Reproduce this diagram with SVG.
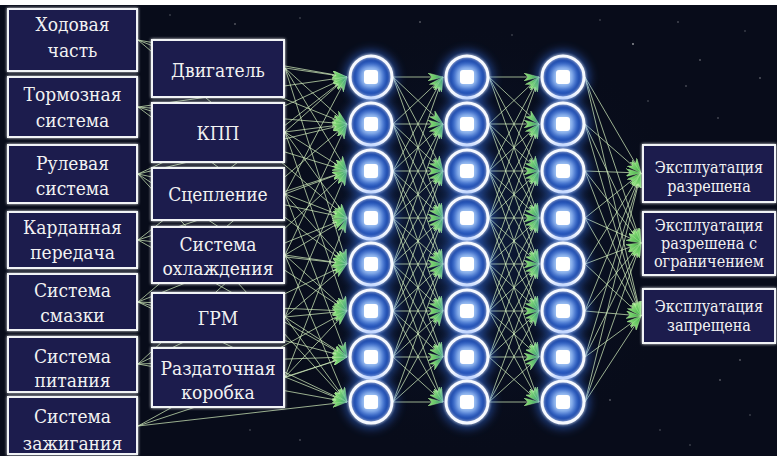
<svg xmlns="http://www.w3.org/2000/svg" xmlns:xlink="http://www.w3.org/1999/xlink" width="777" height="458" viewBox="0 0 777 458">
  <style>
    .box { fill: #1c1f4e; stroke: #f1f3f6; stroke-width: 2; filter: url(#halo); }
    .lbl { font-family: "DejaVu Serif Condensed", "DejaVu Serif", serif; font-stretch: condensed; font-size: 19px; fill: #f2f2f2; text-anchor: middle; }
    .out { font-family: "DejaVu Serif Condensed", "DejaVu Serif", serif; font-stretch: condensed; font-size: 16px; fill: #f2f2f2; text-anchor: middle; }
    .edge line { stroke: #d2efbd; stroke-width: 1; stroke-opacity: 0.72; marker-end: url(#arrow); }
    .star { fill: #ffffff; }
  </style>
  <defs>
    <filter id="halo" x="-10%" y="-10%" width="120%" height="120%">
      <feGaussianBlur in="SourceGraphic" stdDeviation="1.6" result="b"/>
      <feMerge><feMergeNode in="b"/><feMergeNode in="SourceGraphic"/></feMerge>
    </filter>
    <filter id="blur6" x="-50%" y="-50%" width="200%" height="200%">
      <feGaussianBlur stdDeviation="5"/>
    </filter>
    <filter id="blur3" x="-50%" y="-50%" width="200%" height="200%">
      <feGaussianBlur stdDeviation="3"/>
    </filter>
    <filter id="blur1" x="-50%" y="-50%" width="200%" height="200%">
      <feGaussianBlur stdDeviation="1.2"/>
    </filter>
    <radialGradient id="nfill" cx="50%" cy="50%" r="50%">
      <stop offset="0" stop-color="#4f93f2"/>
      <stop offset="0.55" stop-color="#2258c4"/>
      <stop offset="1" stop-color="#163d9a"/>
    </radialGradient>
    <radialGradient id="haze" cx="50%" cy="50%" r="50%">
      <stop offset="0" stop-color="#10234a" stop-opacity="0.8"/>
      <stop offset="1" stop-color="#080c1a" stop-opacity="0"/>
    </radialGradient>
    <linearGradient id="agrad" x1="0" y1="0" x2="1" y2="0">
      <stop offset="0" stop-color="#8fe07c"/>
      <stop offset="1" stop-color="#3fae48"/>
    </linearGradient>
    <marker id="arrow" viewBox="0 0 15 8" refX="15" refY="4" markerWidth="15" markerHeight="8" markerUnits="userSpaceOnUse" orient="auto">
      <path d="M0,0 L15,4 L0,8 L4,4 Z" fill="url(#agrad)" stroke="#b6f0a0" stroke-width="0.4"/>
    </marker>
    <!-- one neuron: glow, ring, core -->
    <g id="neuron">
      <circle r="27" fill="#3a7dff" opacity="0.45" filter="url(#blur6)"/>
      <circle r="21" fill="url(#nfill)"/>
      <circle r="21" fill="none" stroke="#ffffff" stroke-width="5" opacity="0.45" filter="url(#blur1)"/>
      <circle r="21" fill="none" stroke="#f6f9ff" stroke-width="3"/>
      <rect x="-11" y="-11" width="22" height="22" rx="7" fill="#cfe6ff" opacity="0.75" filter="url(#blur3)"/>
      <rect x="-7" y="-7" width="14" height="14" rx="3" fill="#ffffff"/>
    </g>
    <!-- connections between two hidden layers (|i-j| <= 3), x from 0 to 50 -->
    <g id="mesh" class="edge">
      <line x1="0" y1="77" x2="50" y2="77"/><line x1="0" y1="77" x2="50" y2="124"/><line x1="0" y1="77" x2="50" y2="171"/><line x1="0" y1="77" x2="50" y2="218"/>
      <line x1="0" y1="124" x2="50" y2="77"/><line x1="0" y1="124" x2="50" y2="124"/><line x1="0" y1="124" x2="50" y2="171"/><line x1="0" y1="124" x2="50" y2="218"/><line x1="0" y1="124" x2="50" y2="264"/>
      <line x1="0" y1="171" x2="50" y2="77"/><line x1="0" y1="171" x2="50" y2="124"/><line x1="0" y1="171" x2="50" y2="171"/><line x1="0" y1="171" x2="50" y2="218"/><line x1="0" y1="171" x2="50" y2="264"/><line x1="0" y1="171" x2="50" y2="311"/>
      <line x1="0" y1="218" x2="50" y2="77"/><line x1="0" y1="218" x2="50" y2="124"/><line x1="0" y1="218" x2="50" y2="171"/><line x1="0" y1="218" x2="50" y2="218"/><line x1="0" y1="218" x2="50" y2="264"/><line x1="0" y1="218" x2="50" y2="311"/><line x1="0" y1="218" x2="50" y2="357"/>
      <line x1="0" y1="264" x2="50" y2="124"/><line x1="0" y1="264" x2="50" y2="171"/><line x1="0" y1="264" x2="50" y2="218"/><line x1="0" y1="264" x2="50" y2="264"/><line x1="0" y1="264" x2="50" y2="311"/><line x1="0" y1="264" x2="50" y2="357"/><line x1="0" y1="264" x2="50" y2="402"/>
      <line x1="0" y1="311" x2="50" y2="171"/><line x1="0" y1="311" x2="50" y2="218"/><line x1="0" y1="311" x2="50" y2="264"/><line x1="0" y1="311" x2="50" y2="311"/><line x1="0" y1="311" x2="50" y2="357"/><line x1="0" y1="311" x2="50" y2="402"/>
      <line x1="0" y1="357" x2="50" y2="218"/><line x1="0" y1="357" x2="50" y2="264"/><line x1="0" y1="357" x2="50" y2="311"/><line x1="0" y1="357" x2="50" y2="357"/><line x1="0" y1="357" x2="50" y2="402"/>
      <line x1="0" y1="402" x2="50" y2="264"/><line x1="0" y1="402" x2="50" y2="311"/><line x1="0" y1="402" x2="50" y2="357"/><line x1="0" y1="402" x2="50" y2="402"/>
    </g>
  </defs>

  <!-- backdrop -->
  <rect x="0" y="0" width="777" height="458" fill="#ffffff"/>
  <rect x="0" y="5" width="777" height="451" fill="#080c1a"/>
  <ellipse cx="466" cy="240" rx="230" ry="220" fill="url(#haze)"/>
  <g id="stars" class="star">
    <circle cx="420" cy="22" r="0.8" opacity="0.5"/><circle cx="512" cy="35" r="0.7" opacity="0.4"/>
    <circle cx="633" cy="44" r="0.9" opacity="0.6"/><circle cx="678" cy="22" r="0.7" opacity="0.5"/>
    <circle cx="700" cy="60" r="0.8" opacity="0.5"/><circle cx="745" cy="31" r="0.7" opacity="0.4"/>
    <circle cx="760" cy="78" r="0.8" opacity="0.5"/><circle cx="648" cy="101" r="0.7" opacity="0.4"/>
    <circle cx="718" cy="118" r="0.8" opacity="0.4"/><circle cx="686" cy="86" r="0.7" opacity="0.5"/>
    <circle cx="300" cy="18" r="0.7" opacity="0.4"/><circle cx="235" cy="24" r="0.8" opacity="0.5"/>
    <circle cx="170" cy="15" r="0.7" opacity="0.4"/><circle cx="610" cy="400" r="0.8" opacity="0.5"/>
    <circle cx="660" cy="430" r="0.7" opacity="0.4"/><circle cx="720" cy="380" r="0.8" opacity="0.5"/>
    <circle cx="750" cy="415" r="0.7" opacity="0.4"/><circle cx="300" cy="440" r="0.8" opacity="0.4"/>
    <circle cx="250" cy="430" r="0.7" opacity="0.4"/><circle cx="690" cy="445" r="0.7" opacity="0.4"/>
    <circle cx="600" cy="20" r="0.7" opacity="0.4"/><circle cx="740" cy="360" r="0.8" opacity="0.5"/>
  </g>

  <!-- connectors -->
  <g id="connectors" class="edge">
    <!-- inputs to first hidden layer -->
    <line x1="138" y1="40" x2="347" y2="77"/><line x1="138" y1="107" x2="347" y2="77"/><line x1="285" y1="68" x2="347" y2="77"/><line x1="285" y1="132" x2="347" y2="77"/><line x1="138" y1="174" x2="347" y2="77"/><line x1="285" y1="194" x2="347" y2="77"/><line x1="138" y1="240" x2="347" y2="77"/>
    <line x1="138" y1="40" x2="347" y2="124"/><line x1="285" y1="68" x2="347" y2="124"/><line x1="285" y1="132" x2="347" y2="124"/><line x1="138" y1="107" x2="347" y2="124"/><line x1="285" y1="255" x2="347" y2="124"/><line x1="138" y1="302" x2="347" y2="124"/><line x1="138" y1="174" x2="347" y2="124"/>
    <line x1="138" y1="107" x2="347" y2="171"/><line x1="285" y1="68" x2="347" y2="171"/><line x1="285" y1="194" x2="347" y2="171"/><line x1="138" y1="240" x2="347" y2="171"/><line x1="285" y1="132" x2="347" y2="171"/><line x1="138" y1="364" x2="347" y2="171"/><line x1="285" y1="317" x2="347" y2="171"/>
    <line x1="138" y1="40" x2="347" y2="218"/><line x1="285" y1="132" x2="347" y2="218"/><line x1="285" y1="255" x2="347" y2="218"/><line x1="138" y1="174" x2="347" y2="218"/><line x1="138" y1="302" x2="347" y2="218"/><line x1="285" y1="194" x2="347" y2="218"/><line x1="285" y1="377" x2="347" y2="218"/>
    <line x1="138" y1="107" x2="347" y2="264"/><line x1="285" y1="194" x2="347" y2="264"/><line x1="285" y1="317" x2="347" y2="264"/><line x1="138" y1="240" x2="347" y2="264"/><line x1="138" y1="364" x2="347" y2="264"/><line x1="285" y1="255" x2="347" y2="264"/><line x1="285" y1="68" x2="347" y2="264"/>
    <line x1="138" y1="174" x2="347" y2="311"/><line x1="285" y1="255" x2="347" y2="311"/><line x1="285" y1="377" x2="347" y2="311"/><line x1="138" y1="302" x2="347" y2="311"/><line x1="138" y1="426" x2="347" y2="311"/><line x1="285" y1="132" x2="347" y2="311"/><line x1="285" y1="317" x2="347" y2="311"/>
    <line x1="138" y1="240" x2="347" y2="357"/><line x1="285" y1="317" x2="347" y2="357"/><line x1="285" y1="377" x2="347" y2="357"/><line x1="138" y1="364" x2="347" y2="357"/><line x1="138" y1="426" x2="347" y2="357"/><line x1="285" y1="194" x2="347" y2="357"/><line x1="138" y1="302" x2="347" y2="357"/>
    <line x1="138" y1="302" x2="347" y2="402"/><line x1="285" y1="377" x2="347" y2="402"/><line x1="138" y1="426" x2="347" y2="402"/><line x1="285" y1="255" x2="347" y2="402"/><line x1="138" y1="364" x2="347" y2="402"/><line x1="285" y1="317" x2="347" y2="402"/><line x1="138" y1="174" x2="347" y2="402"/>
    <!-- hidden layer 1 to 2, and 2 to 3 -->
    <use href="#mesh" xlink:href="#mesh" transform="translate(393,0)"/>
    <use href="#mesh" xlink:href="#mesh" transform="translate(489,0)"/>
    <!-- last hidden layer to outputs -->
    <line x1="585" y1="77" x2="641" y2="173"/><line x1="585" y1="77" x2="641" y2="243"/><line x1="585" y1="77" x2="641" y2="316"/>
    <line x1="585" y1="124" x2="641" y2="173"/><line x1="585" y1="124" x2="641" y2="243"/><line x1="585" y1="124" x2="641" y2="316"/>
    <line x1="585" y1="171" x2="641" y2="173"/><line x1="585" y1="171" x2="641" y2="243"/><line x1="585" y1="171" x2="641" y2="316"/>
    <line x1="585" y1="218" x2="641" y2="173"/><line x1="585" y1="218" x2="641" y2="243"/><line x1="585" y1="218" x2="641" y2="316"/>
    <line x1="585" y1="264" x2="641" y2="173"/><line x1="585" y1="264" x2="641" y2="243"/><line x1="585" y1="264" x2="641" y2="316"/>
    <line x1="585" y1="311" x2="641" y2="173"/><line x1="585" y1="311" x2="641" y2="243"/><line x1="585" y1="311" x2="641" y2="316"/>
    <line x1="585" y1="357" x2="641" y2="173"/><line x1="585" y1="357" x2="641" y2="243"/><line x1="585" y1="357" x2="641" y2="316"/>
    <line x1="585" y1="402" x2="641" y2="173"/><line x1="585" y1="402" x2="641" y2="243"/><line x1="585" y1="402" x2="641" y2="316"/>
  </g>

  <!-- vehicle systems -->
  <g id="in-hodovaya"><rect class="box" x="8" y="9" width="129" height="62"/><text class="lbl" x="72.5" y="31">Ходовая</text><text class="lbl" x="72.5" y="57">часть</text></g>
  <g id="in-tormoz"><rect class="box" x="8" y="77" width="129" height="60"/><text class="lbl" x="72.5" y="101">Тормозная</text><text class="lbl" x="72.5" y="127">система</text></g>
  <g id="in-rul"><rect class="box" x="8" y="145" width="129" height="58"/><text class="lbl" x="72.5" y="170">Рулевая</text><text class="lbl" x="72.5" y="195">система</text></g>
  <g id="in-kardan"><rect class="box" x="8" y="212" width="129" height="56"/><text class="lbl" x="72.5" y="234">Карданная</text><text class="lbl" x="72.5" y="259">передача</text></g>
  <g id="in-smazka"><rect class="box" x="8" y="274" width="129" height="56"/><text class="lbl" x="72.5" y="297">Система</text><text class="lbl" x="72.5" y="322">смазки</text></g>
  <g id="in-pitanie"><rect class="box" x="8" y="337" width="129" height="55"/><text class="lbl" x="72.5" y="363">Система</text><text class="lbl" x="72.5" y="387">питания</text></g>
  <g id="in-zazhiganie"><rect class="box" x="8" y="397" width="129" height="57"/><text class="lbl" x="72.5" y="423">Система</text><text class="lbl" x="72.5" y="450">зажигания</text></g>

  <!-- engine and transmission units -->
  <g id="in-dvigatel"><rect class="box" x="152" y="40" width="132" height="57"/><text class="lbl" x="218" y="77">Двигатель</text></g>
  <g id="in-kpp"><rect class="box" x="152" y="103" width="132" height="59"/><text class="lbl" x="218" y="140">КПП</text></g>
  <g id="in-sceplenie"><rect class="box" x="152" y="168" width="132" height="52"/><text class="lbl" x="218" y="201">Сцепление</text></g>
  <g id="in-ohlazhdenie"><rect class="box" x="152" y="227" width="132" height="56"/><text class="lbl" x="218" y="251">Система</text><text class="lbl" x="218" y="275">охлаждения</text></g>
  <g id="in-grm"><rect class="box" x="152" y="293" width="132" height="49"/><text class="lbl" x="218" y="325">ГРМ</text></g>
  <g id="in-razdatka"><rect class="box" x="152" y="348" width="132" height="59"/><text class="lbl" x="218" y="375">Раздаточная</text><text class="lbl" x="218" y="399">коробка</text></g>

  <!-- hidden layers -->
  <g id="h1-1" transform="translate(371,77)"><use href="#neuron" xlink:href="#neuron"/></g>
  <g id="h1-2" transform="translate(371,124)"><use href="#neuron" xlink:href="#neuron"/></g>
  <g id="h1-3" transform="translate(371,171)"><use href="#neuron" xlink:href="#neuron"/></g>
  <g id="h1-4" transform="translate(371,218)"><use href="#neuron" xlink:href="#neuron"/></g>
  <g id="h1-5" transform="translate(371,264)"><use href="#neuron" xlink:href="#neuron"/></g>
  <g id="h1-6" transform="translate(371,311)"><use href="#neuron" xlink:href="#neuron"/></g>
  <g id="h1-7" transform="translate(371,357)"><use href="#neuron" xlink:href="#neuron"/></g>
  <g id="h1-8" transform="translate(371,402)"><use href="#neuron" xlink:href="#neuron"/></g>
  <g id="h2-1" transform="translate(467,77)"><use href="#neuron" xlink:href="#neuron"/></g>
  <g id="h2-2" transform="translate(467,124)"><use href="#neuron" xlink:href="#neuron"/></g>
  <g id="h2-3" transform="translate(467,171)"><use href="#neuron" xlink:href="#neuron"/></g>
  <g id="h2-4" transform="translate(467,218)"><use href="#neuron" xlink:href="#neuron"/></g>
  <g id="h2-5" transform="translate(467,264)"><use href="#neuron" xlink:href="#neuron"/></g>
  <g id="h2-6" transform="translate(467,311)"><use href="#neuron" xlink:href="#neuron"/></g>
  <g id="h2-7" transform="translate(467,357)"><use href="#neuron" xlink:href="#neuron"/></g>
  <g id="h2-8" transform="translate(467,402)"><use href="#neuron" xlink:href="#neuron"/></g>
  <g id="h3-1" transform="translate(563,77)"><use href="#neuron" xlink:href="#neuron"/></g>
  <g id="h3-2" transform="translate(563,124)"><use href="#neuron" xlink:href="#neuron"/></g>
  <g id="h3-3" transform="translate(563,171)"><use href="#neuron" xlink:href="#neuron"/></g>
  <g id="h3-4" transform="translate(563,218)"><use href="#neuron" xlink:href="#neuron"/></g>
  <g id="h3-5" transform="translate(563,264)"><use href="#neuron" xlink:href="#neuron"/></g>
  <g id="h3-6" transform="translate(563,311)"><use href="#neuron" xlink:href="#neuron"/></g>
  <g id="h3-7" transform="translate(563,357)"><use href="#neuron" xlink:href="#neuron"/></g>
  <g id="h3-8" transform="translate(563,402)"><use href="#neuron" xlink:href="#neuron"/></g>

  <!-- verdicts -->
  <g id="out-allowed"><rect class="box" x="643" y="145" width="132" height="57"/><text class="out" x="709" y="173">Эксплуатация</text><text class="out" x="709" y="192">разрешена</text></g>
  <g id="out-limited"><rect class="box" x="643" y="212" width="132" height="63"/><text class="out" x="709" y="231">Эксплуатация</text><text class="out" x="709" y="249">разрешена с</text><text class="out" x="709" y="267">ограничением</text></g>
  <g id="out-forbidden"><rect class="box" x="643" y="289" width="132" height="54"/><text class="out" x="709" y="312">Эксплуатация</text><text class="out" x="709" y="331">запрещена</text></g>
</svg>
